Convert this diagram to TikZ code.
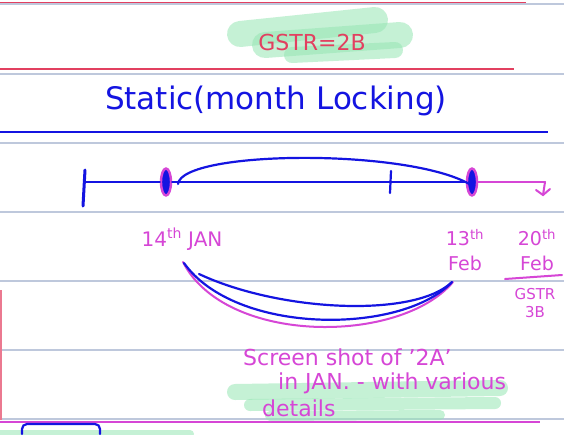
\documentclass[tikz,border=0pt]{standalone}
\usepackage{fontspec}
\setmainfont{DejaVu Sans}
\usetikzlibrary{shapes.geometric}
\definecolor{inkblue}{RGB}{20,20,225}
\definecolor{inkmag}{RGB}{214,70,214}
\definecolor{inkred}{RGB}{226,64,96}
\definecolor{hilite}{RGB}{150,230,180}
\definecolor{rule}{RGB}{190,200,220}
\begin{document}
\begin{tikzpicture}[x=1pt,y=-1pt,
  ruleline/.style={rule,line width=1.2pt},
  redline/.style={inkred,line width=1.8pt},
  bluepen/.style={inkblue,line width=2.2pt,line cap=round},
  magpen/.style={inkmag,line width=2pt,line cap=round},
  hl/.style={hilite,opacity=0.55,line width=16pt,line cap=round},
  magtext/.style={text=inkmag,inner sep=0pt,font=\fontsize{20}{23}\selectfont},
  blob/.style={ellipse,draw=inkmag,line width=2.4pt,fill=inkblue,minimum width=10pt,minimum height=27pt,inner sep=0pt}
]
\useasboundingbox (0,0) rectangle (564,434);
\fill[white] (0,0) rectangle (564,434);
% ruled lines
\foreach \yy in {4,74,143,212,281,350,419} \draw[ruleline] (0,\yy) -- (564,\yy);
\draw[redline] (0,2.5) -- (526,2.5);
\draw[redline] (0,69) -- (514,69);
\draw[inkblue,line width=1.6pt] (0,132) -- (548,132);
\draw[inkred!70,line width=1.4pt] (1,290) -- (1,420);
\draw[inkmag,line width=1.6pt] (0,422) -- (540,422);
% top highlight
\draw[hl,line width=26pt] (240,34) -- (375,20);
\draw[hl,line width=26pt] (265,45) -- (400,35);
\draw[hl,line width=16pt] (292,55) -- (395,50);
\node[text=inkred,inner sep=0pt,font=\fontsize{22}{24}\selectfont] (title) at (312,42) {GSTR=2B};
\node[text=inkblue,inner sep=0pt,font=\fontsize{31}{34}\selectfont] (head) at (276,101) {Static(month Locking)};
% timeline
\coordinate (t0) at (85,182);
\coordinate (t3) at (390,182);
\coordinate (tend) at (545,182);
\node[blob] (b1) at (166,182) {};
\node[blob] (b2) at (472,182) {};
\draw[bluepen] (t0) -- (b1) -- (b2);
\draw[bluepen,line width=3pt] (85,170) -- (83,206);
\draw[bluepen] (391,171) -- (390,193);
\draw[bluepen] (178,184) .. controls (182,150) and (410,148) .. (471,185);
\draw[magpen] (b2.east) -- (tend);
\coordinate (tarrow) at (543,195);
\draw[magpen] (tend) -- (tarrow);
\draw[magpen] (536,190) -- (tarrow) -- (550,189);
% labels
\node[magtext] (jan) at (182,239) {14\textsuperscript{th} JAN};
\node[magtext,align=center,font=\fontsize{19}{25}\selectfont] (feb13) at (465,250) {13\textsuperscript{th}\\Feb};
\node[magtext,align=center,font=\fontsize{19}{25}\selectfont] (feb20) at (537,250) {20\textsuperscript{th}\\Feb};
\draw[magpen] (505,279) -- (562,275);
\node[magtext,align=center,font=\fontsize{15}{18}\selectfont] (g3b) at (535,303) {GSTR\\3B};
% bowl curves
\draw[magpen] (183,262) .. controls (225,345) and (400,345) .. (453,282);
\draw[bluepen] (184,263) .. controls (235,335) and (400,335) .. (451,283);
\draw[bluepen] (199,274) .. controls (280,312) and (415,318) .. (452,282);
% bottom highlight
\draw[hl] (235,392) -- (500,388);
\draw[hl,line width=12pt] (250,405) -- (495,403);
\draw[hl,line width=10pt] (270,416) -- (440,415);
\node[magtext,anchor=west,font=\fontsize{22}{26}\selectfont] (s1) at (243,357) {Screen shot of '2A'};
\node[magtext,anchor=west,font=\fontsize{22}{26}\selectfont] (s2) at (278,383) {in JAN. - with various};
\node[magtext,anchor=west,font=\fontsize{22}{26}\selectfont] (s3) at (262,408) {details};
% bottom fragment
\draw[hl,line width=8pt] (0,434) -- (190,434);
\draw[bluepen,rounded corners=5pt] (22,434) -- (22,424) -- (100,424) -- (100,434);
\end{tikzpicture}
\end{document}
